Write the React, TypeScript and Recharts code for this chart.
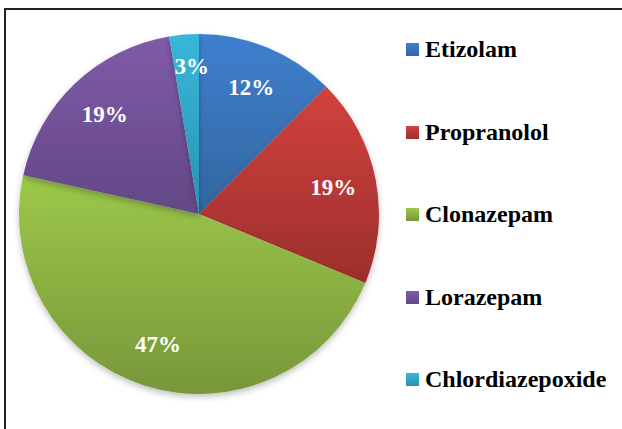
import React from "react";
import { PieChart, Pie, Cell, Legend } from "recharts";

const drugNames = ["Etizolam", "Propranolol", "Clonazepam", "Lorazepam", "Chlordiazepoxide"];
const drugShares = [12.5, 18.75, 47.2, 18.9, 2.65];
const shareLabels = ["12%", "19%", "47%", "19%", "3%"];
const topColors = ["#3f7fce", "#d2423f", "#9dc84b", "#7f5ba8", "#39b7da"];
const bottomColors = ["#32669f", "#9c2e2c", "#77973a", "#634785", "#2792b2"];

const data = drugNames.map((name, i) => ({ name, value: drugShares[i], label: shareLabels[i] }));

const RAD = Math.PI / 180;
const SERIF = "Liberation Serif, Tinos, Times New Roman, serif";

const renderLabel = (props: any) => {
  const { cx, cy, midAngle, outerRadius, percent, index } = props;
  const small = percent < 0.05;
  const r = outerRadius * (small ? 0.82 : 0.76);
  const x = cx + r * Math.cos(-midAngle * RAD) + (small ? 5 : 0);
  const y = cy + r * Math.sin(-midAngle * RAD);
  return (
    <text
      x={x}
      y={y}
      fill="#ffffff"
      textAnchor="middle"
      dominantBaseline="central"
      style={{ fontFamily: SERIF, fontWeight: 700, fontSize: 23 }}
    >
      {shareLabels[index]}
    </text>
  );
};

const renderLegend = () => (
  <div style={{ fontFamily: SERIF, fontWeight: 700, fontSize: 24, color: "#000" }}>
    {drugNames.map((n, i) => (
      <div key={n} style={{ height: 82.5, display: "flex", alignItems: "flex-start" }}>
        <span
          style={{
            display: "inline-block",
            width: 13,
            height: 13,
            marginTop: 7,
            marginRight: 6,
            background: `linear-gradient(${topColors[i]}, ${bottomColors[i]})`,
          }}
        />
        <span style={{ lineHeight: "27px" }}>{n}</span>
      </div>
    ))}
  </div>
);

export default function App() {
  return (
    <div style={{ position: "absolute", left: 0, top: 0, width: 622, height: 429, background: "#fff", overflow: "hidden" }}>
      <div style={{ position: "absolute", left: 4, top: 8, width: 640, height: 440, border: "2px solid #222", boxSizing: "border-box" }} />
      <PieChart
        width={622}
        height={429}
        margin={{ top: 0, right: 0, bottom: 0, left: 0 }}
        style={{ position: "absolute", left: 0, top: 0 }}
      >
        <defs>
          {drugNames.map((n, i) => (
            <linearGradient key={n} id={`g${i}`} x1="0" y1="0" x2="0" y2="1">
              <stop offset="0%" stopColor={topColors[i]} />
              <stop offset="100%" stopColor={bottomColors[i]} />
            </linearGradient>
          ))}
          <filter id="shadow" x="-10%" y="-10%" width="120%" height="125%">
            <feDropShadow dx="0" dy="3" stdDeviation="3" floodColor="#000" floodOpacity="0.25" />
          </filter>
        </defs>
        <Pie
          data={data}
          dataKey="value"
          nameKey="name"
          cx={199}
          cy={214}
          outerRadius={180}
          startAngle={90}
          endAngle={-270}
          stroke="none"
          label={renderLabel}
          labelLine={false}
          isAnimationActive={false}
          style={{ filter: "url(#shadow)" }}
        >
          {data.map((d, i) => (
            <Cell key={d.name} fill={`url(#g${i})`} />
          ))}
        </Pie>
        <Legend
          layout="vertical"
          verticalAlign="top"
          align="right"
          content={renderLegend}
          wrapperStyle={{ position: "absolute", left: 406, top: 36, width: 216 }}
        />
      </PieChart>
    </div>
  );
}
